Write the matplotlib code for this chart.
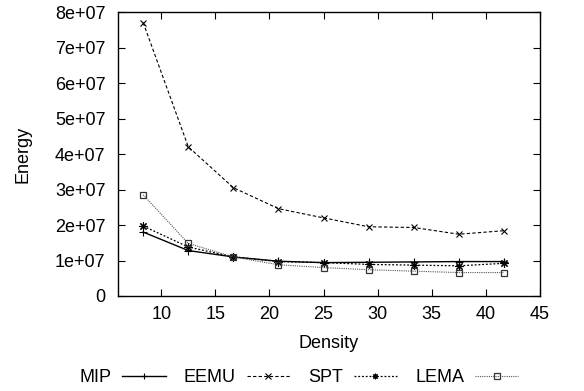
import matplotlib
matplotlib.use("Agg")
import matplotlib.pyplot as plt
from matplotlib.ticker import FixedLocator

plt.rcParams['font.family'] = ['Liberation Sans', 'DejaVu Sans']

density = [8.33, 12.5, 16.67, 20.83, 25.0, 29.17, 33.33, 37.5, 41.67]
mip = [1.80e7, 1.28e7, 1.10e7, 0.98e7, 0.94e7, 0.95e7, 0.96e7, 0.97e7, 0.97e7]
eemu = [7.70e7, 4.20e7, 3.05e7, 2.46e7, 2.20e7, 1.95e7, 1.93e7, 1.74e7, 1.84e7]
spt = [1.97e7, 1.38e7, 1.10e7, 0.97e7, 0.94e7, 0.89e7, 0.87e7, 0.85e7, 0.92e7]
lema = [2.85e7, 1.48e7, 1.10e7, 0.88e7, 0.80e7, 0.74e7, 0.70e7, 0.66e7, 0.66e7]

xticks = [10, 15, 20, 25, 30, 35, 40, 45]
yticks = [0, 1e7, 2e7, 3e7, 4e7, 5e7, 6e7, 7e7, 8e7]
ylabels = ['0', '1e+07', '2e+07', '3e+07', '4e+07', '5e+07', '6e+07', '7e+07', '8e+07']

FS = 13

fig = plt.figure(figsize=(5.84, 3.91), dpi=100)
ax = fig.add_axes([118/584, 1 - 296/391, (540-118)/584, (296-12)/391])

ax.plot(density, mip, color='black', lw=1.0, ls='-', marker='+', ms=6, mew=0.8, label='MIP')
ax.plot(density, eemu, color='black', lw=0.8, ls=(0, (3, 2)), marker='x', ms=5, mew=0.8, label='EEMU')
ax.plot(density, spt, color='black', lw=0.9, ls=(0, (1.5, 1.5)), marker=(8, 2, 0), ms=6, mew=0.8, label='SPT')
ax.plot(density, lema, color='#555555', lw=0.8, ls=(0, (1, 1)), marker='s', ms=5, mew=0.9,
        mfc='none', mec='#333333', label='LEMA')

ax.set_xlim(6, 45)
ax.set_ylim(0, 8e7)
ax.xaxis.set_major_locator(FixedLocator(xticks))
ax.set_yticks(yticks)
ax.set_yticklabels(ylabels)
ax.tick_params(direction='in', top=True, right=True, length=5, width=0.8, labelsize=FS)
ax.tick_params(axis='y', pad=9)
ax.tick_params(axis='x', pad=7)
for s in ax.spines.values():
    s.set_linewidth(1.0)

ax.set_xlabel('Density', fontsize=FS, labelpad=9)
ax.set_ylabel('Energy', fontsize=FS, labelpad=17)

leg = fig.legend(loc='center', bbox_to_anchor=(0.512, 1 - 378/391), ncol=4, frameon=False,
                 markerfirst=False, fontsize=FS, handlelength=2.4, columnspacing=1.0,
                 handletextpad=0.6)
for h in leg.legend_handles:
    h.set_markersize(4)

fig.savefig('out.png', dpi=100)
